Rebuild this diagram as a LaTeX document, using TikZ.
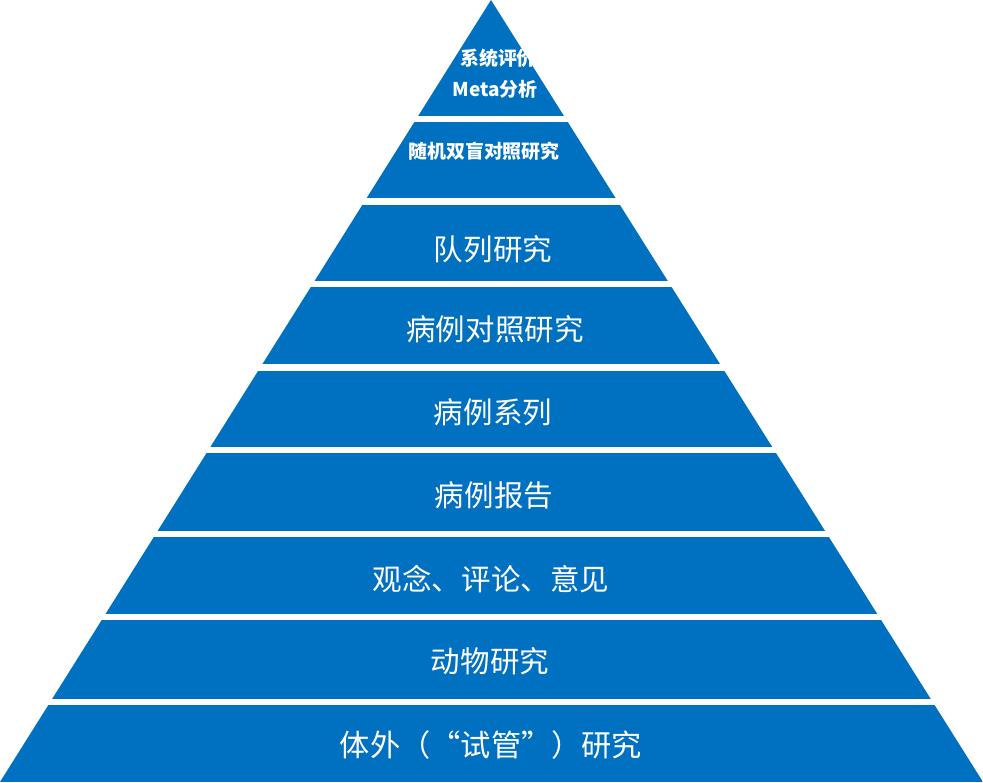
\documentclass[tikz,border=0pt]{standalone}
\usepackage{fontspec}
\newfontfamily\cjk{Noto Sans CJK SC}
\usepackage{xcolor}
\usepackage{tikz}
\definecolor{pyrblue}{RGB}{0,112,192}
\tikzset{
  lbl/.style={text=white, inner sep=0pt, font=\cjk\fontsize{16.8}{18}\selectfont},
  biglbl/.style={lbl, font=\cjk\fontsize{17.2}{19}\selectfont},
  toplbl/.style={lbl, font=\cjk\bfseries\fontsize{10.8}{12}\selectfont}
}

\begin{document}
\begin{tikzpicture}[x=0.02cm, y=-0.02cm]
\useasboundingbox (0,0) rectangle (983,782);
% pyramid bands, clipped to the triangle
\begin{scope}
\clip (491,0) -- (983,782) -- (0,782) -- cycle;
\foreach \t/\b in {0/116, 122/198, 205/281, 287/364, 371/447, 453/531, 537/614, 620/699, 705/782}
  \fill[pyrblue] (0,\t) rectangle (983,\b);
\end{scope}
% labels
\node[toplbl] (sys) at (498,58) {系统评价};
\node[toplbl] (meta) at (495,89) {Meta分析};
\node[toplbl] (rct) at (484,151) {随机双盲对照研究};
\node[lbl] (cohort) at (493,249) {队列研究};
\node[lbl] (casectl) at (495,329) {病例对照研究};
\node[lbl] (series) at (493,412) {病例系列};
\node[lbl] (report) at (494,495) {病例报告};
\node[lbl] (opinion) at (491,579) {观念、评论、意见};
\node[lbl] (animal) at (490,661) {动物研究};
\node[biglbl] (vitro) at (491,745) {体外（“试管”）研究};
\end{tikzpicture}
\end{document}
